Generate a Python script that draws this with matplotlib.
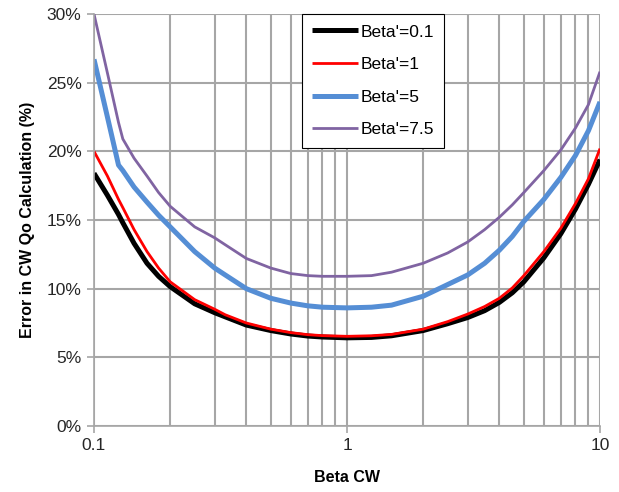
import numpy as np
import matplotlib.pyplot as plt
from matplotlib.ticker import FixedLocator, FuncFormatter

plt.rcParams['font.family'] = ['Liberation Sans', 'DejaVu Sans']

# Beta CW values
beta_cw = [0.1, 0.113, 0.125, 0.13, 0.144, 0.162, 0.18, 0.2, 0.25, 0.3, 0.33, 0.4, 0.5, 0.6, 0.7, 0.8,
           1, 1.25, 1.5, 2, 2.5, 3, 3.5, 4, 4.5, 5, 6, 7, 8, 9, 10]

# error (%) for each Beta'
err_b01 = [18.4, 16.8, 15.4, 14.8, 13.3, 11.85, 10.9, 10.15, 8.9, 8.25, 7.95, 7.35, 6.95, 6.7, 6.55, 6.48,
           6.42, 6.45, 6.57, 6.95, 7.45, 7.9, 8.4, 9.0, 9.7, 10.5, 12.25, 14.0, 15.8, 17.6, 19.4]
err_b1 = [20.0, 18.2, 16.5, 15.9, 14.3, 12.7, 11.5, 10.5, 9.2, 8.5, 8.1, 7.5, 7.05, 6.8, 6.65, 6.58,
          6.53, 6.57, 6.67, 7.05, 7.6, 8.15, 8.7, 9.3, 10.05, 10.95, 12.7, 14.4, 16.2, 18.0, 20.2]
err_b5 = [26.7, 22.5, 19.0, 18.6, 17.4, 16.3, 15.35, 14.5, 12.7, 11.5, 11.0, 10.0, 9.3, 8.95, 8.75, 8.65,
          8.6, 8.65, 8.8, 9.45, 10.3, 11.0, 11.85, 12.8, 13.8, 14.9, 16.5, 18.1, 19.7, 21.5, 23.6]
err_b75 = [30.0, 25.7, 22.1, 20.9, 19.5, 18.2, 17.0, 16.0, 14.5, 13.7, 13.2, 12.2, 11.5, 11.1, 10.95, 10.9,
           10.9, 10.95, 11.2, 11.85, 12.6, 13.4, 14.3, 15.2, 16.1, 17.0, 18.6, 20.1, 21.7, 23.4, 25.8]

labels = ["Beta'=0.1", "Beta'=1", "Beta'=5", "Beta'=7.5"]

fig = plt.figure(figsize=(6.19, 4.92), dpi=100)
ax = fig.add_axes([94 / 619, 66 / 492, 506 / 619, 412 / 492])

ax.plot(beta_cw, err_b01, color='black', lw=3.6, label=labels[0], solid_capstyle='butt')
ax.plot(beta_cw, err_b1, color='#ff0000', lw=2.0, label=labels[1], solid_capstyle='butt')
ax.plot(beta_cw, err_b5, color='#558ed5', lw=3.6, label=labels[2], solid_capstyle='butt')
ax.plot(beta_cw, err_b75, color='#8064a2', lw=2.0, label=labels[3], solid_capstyle='butt')

ax.set_xscale('log')
ax.set_xlim(0.1, 10)
ax.set_ylim(0, 30)

grid_col = '#a6a6a6'
ax.xaxis.set_major_locator(FixedLocator([0.1, 1, 10]))
ax.xaxis.set_minor_locator(FixedLocator([0.2, 0.3, 0.4, 0.5, 0.6, 0.7, 0.8, 0.9,
                                         2, 3, 4, 5, 6, 7, 8, 9]))
ax.xaxis.set_major_formatter(FuncFormatter(lambda v, p: '%g' % v))
ax.xaxis.set_minor_formatter(FuncFormatter(lambda v, p: ''))
ax.set_yticks(np.arange(0, 31, 5))
ax.yaxis.set_major_formatter(FuncFormatter(lambda v, p: '%d%%' % v))

ax.grid(True, which='both', axis='x', color=grid_col, lw=1.5)
ax.grid(True, which='major', axis='y', color=grid_col, lw=1.5)
ax.set_axisbelow(True)

for s in ['top', 'right']:
    ax.spines[s].set_visible(False)
for s in ['left', 'bottom']:
    ax.spines[s].set_color(grid_col)
    ax.spines[s].set_linewidth(1.2)

ax.tick_params(axis='both', which='major', color=grid_col, length=5, width=1.2,
               labelsize=12.5, labelcolor='#262626', pad=4)
ax.tick_params(axis='x', which='minor', length=0)

ax.set_xlabel('Beta CW', fontsize=11.5, fontweight='bold', labelpad=12)
ax.set_ylabel('Error in CW Qo Calculation (%)', fontsize=11.5, fontweight='bold', labelpad=8)

leg = ax.legend(loc='upper left', bbox_to_anchor=(302 / 619, 478 / 492),
                bbox_transform=fig.transFigure, fontsize=12.5, frameon=True,
                fancybox=False, edgecolor='black', framealpha=1,
                handlelength=2.6, handletextpad=0.15, labelspacing=1.0,
                borderpad=0.6, borderaxespad=0)
leg.get_frame().set_linewidth(0.8)

fig.savefig('out.png', dpi=100)
